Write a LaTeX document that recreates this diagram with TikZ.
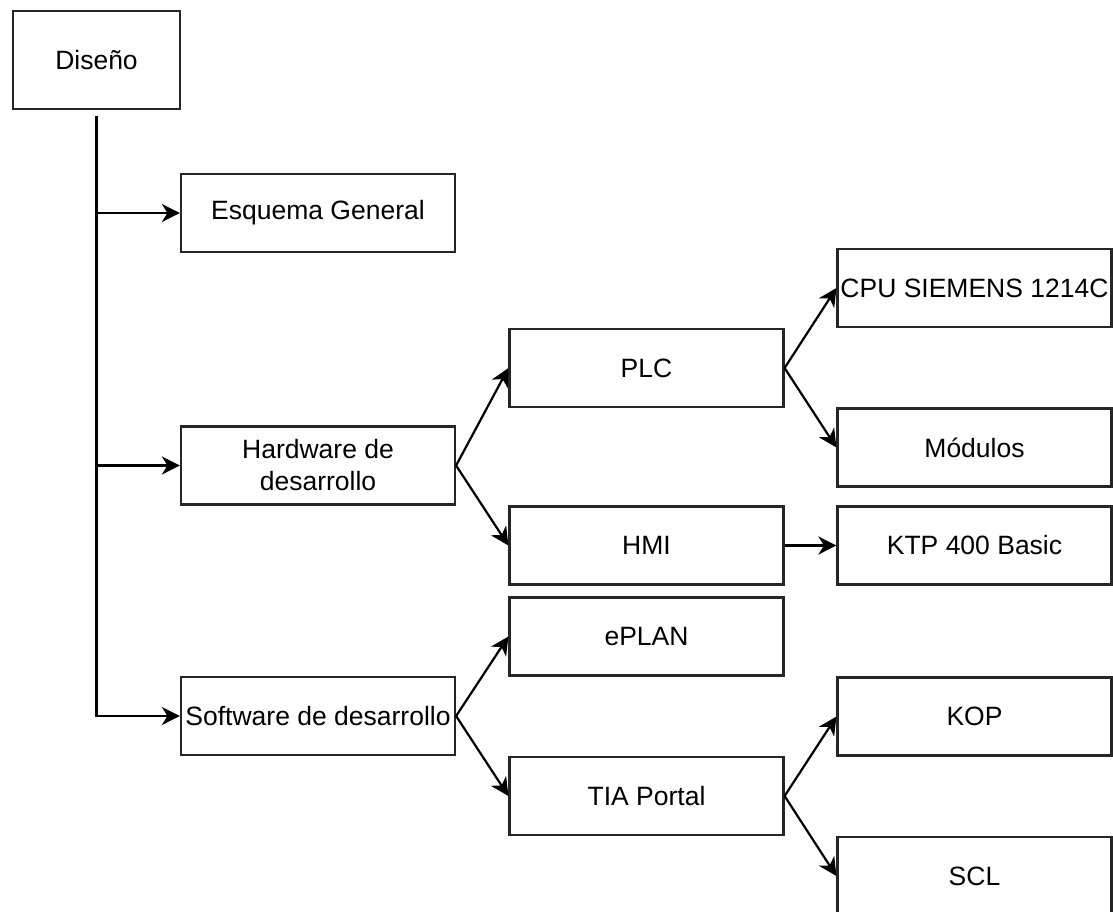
\documentclass[tikz,border=0pt]{standalone}
\usepackage{fontspec}
\setmainfont{Liberation Sans}
\usetikzlibrary{arrows.meta}
\begin{document}
\begin{tikzpicture}[x=1pt,y=-1pt,
  box/.style={draw=black!85,line width=2.2pt,rectangle,minimum width=274pt,minimum height=78pt,
    inner sep=0pt,align=center,font=\fontsize{26.5pt}{32pt}\selectfont},
  arr/.style={line width=2.2pt,-{Stealth[length=18pt,width=18pt,inset=5.5pt]}}]
\useasboundingbox (0,0) rectangle (1113,912);
\node[box,minimum width=167pt,minimum height=98pt] (dis) at (96.5,60) {Diseño};
\node[box] (esq) at (318,213) {Esquema General};
\node[box] (hw) at (318,465.5) {Hardware de\\desarrollo};
\node[box] (sw) at (318,716) {Software de desarrollo};
\node[box] (plc) at (646.5,368) {PLC};
\node[box] (hmi) at (646.5,545.5) {HMI};
\node[box] (epl) at (646.5,636.5) {ePLAN};
\node[box] (tia) at (646.5,796) {TIA Portal};
\node[box] (cpu) at (974.5,288) {CPU SIEMENS 1214C};
\node[box] (mod) at (974.5,447.5) {Módulos};
\node[box] (ktp) at (974.5,545.5) {KTP 400 Basic};
\node[box] (kop) at (974.5,716.5) {KOP};
\node[box] (scl) at (974.5,876) {SCL};
\draw[arr,shorten <=6pt] (dis.south) |- (sw.west);
\draw[arr] (dis.south |- esq.west) -- (esq.west);
\draw[arr] (dis.south |- hw.west) -- (hw.west);
\draw[arr] (hw.east) -- (plc.west);
\draw[arr] (hw.east) -- (hmi.west);
\draw[arr] (plc.east) -- (cpu.west);
\draw[arr] (plc.east) -- (mod.west);
\draw[arr] (hmi.east) -- (ktp.west);
\draw[arr] (sw.east) -- (epl.west);
\draw[arr] (sw.east) -- (tia.west);
\draw[arr] (tia.east) -- (kop.west);
\draw[arr] (tia.east) -- (scl.west);
\end{tikzpicture}
\end{document}
